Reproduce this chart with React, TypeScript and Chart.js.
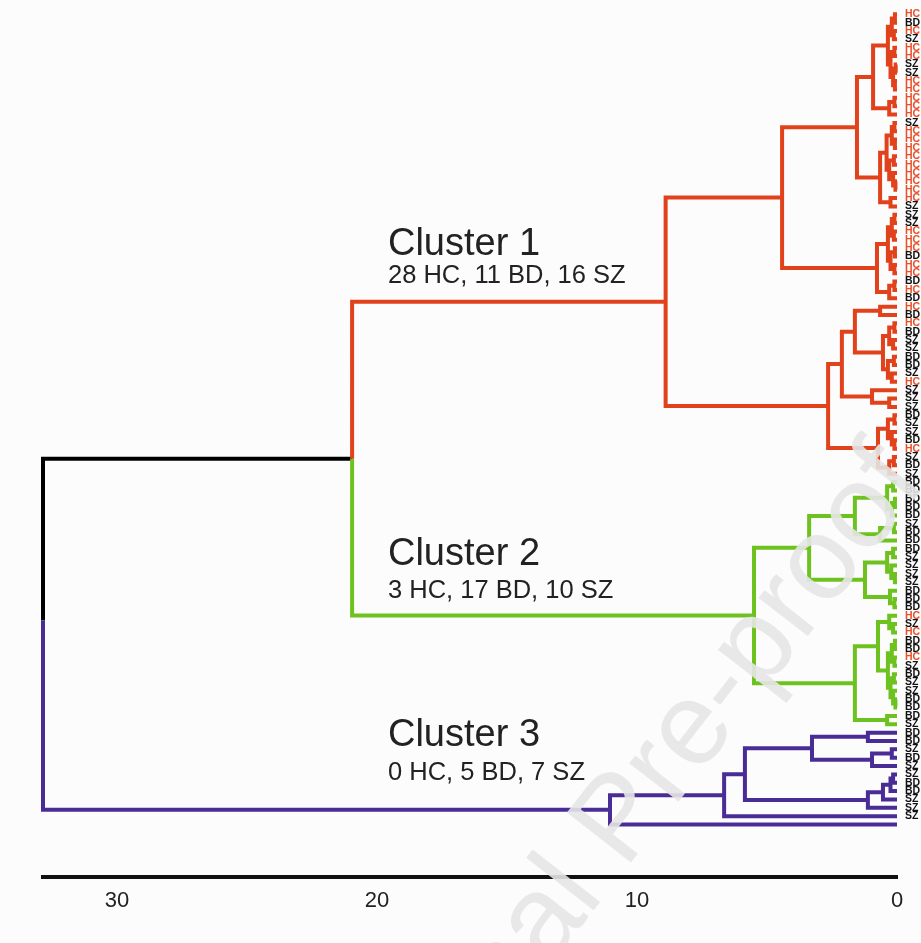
import React, { useEffect, useRef } from "react";
import { Chart, registerables } from "chart.js";

Chart.register(...registerables);

type Tree = number | [number, Tree, Tree];
const L = 0; // a leaf, consumed in label order

// ---------- DATA ----------
const leafLabels: string[] = [
  // cluster 1 (55)
  "HC","BD","HC","SZ","HC","HC","SZ","SZ","HC","HC",
  "HC","HC","HC","SZ","HC","HC","HC","HC","HC","HC",
  "HC","HC","HC","SZ","SZ","SZ","HC","HC","HC","BD",
  "HC","HC","BD","HC","BD","HC","BD","HC","BD","SZ",
  "SZ","BD","BD","SZ","HC","SZ","SZ","SZ","BD","SZ",
  "SZ","BD","HC","SZ","BD",
  // cluster 2 (30)
  "SZ","BD","BD","BD","BD","BD","SZ","BD","BD","BD",
  "SZ","SZ","SZ","SZ","BD","BD","BD","HC","SZ","HC",
  "BD","BD","HC","SZ","BD","SZ","SZ","BD","BD","BD",
  // cluster 3 (12)
  "SZ","BD","BD","SZ","BD","SZ","SZ","BD","BD","SZ","SZ","SZ",
];

// merge trees: [height, left, right]
const cluster1Tree: Tree = [8.9,
  [4.42,
    [1.54,
      [0.92,
        [0.35, [0.2, [0.08, L, L], [0.12, L, L]], [0.25, [0.1, L, L], [0.15, [0.05, L, L], [0.08, L, L]]]],
        [0.3, [0.1, L, L], L]],
      [0.65,
        [0.4, [0.2, [0.1, L, L], [0.08, L, L]], [0.3, [0.12, L, L], [0.15, L, [0.06, L, L]]]],
        [0.25, L, L]]],
    [0.77,
      [0.35, [0.2, [0.1, L, L], [0.12, L, L]], [0.25, [0.08, L, L], [0.1, L, L]]],
      [0.3, [0.1, L, L], L]]],
  [2.65,
    [2.12,
      [1.62,
        [0.65, L, L],
        [0.54, [0.3, [0.1, L, L], [0.15, L, L]], [0.35, [0.12, L, L], [0.2, L, L]]]],
      [0.96, L, [0.3, L, L]]],
    [0.73, [0.35, [0.1, L, L], [0.2, L, [0.1, L, L]]], [0.3, [0.12, L, L], L]]]];

const cluster2Tree: Tree = [5.5,
  [3.38,
    [1.62,
      [0.38, [0.15, L, L], [0.2, [0.08, L, L], L]],
      [0.65, [0.12, L, L], L]],
    [1.23,
      [0.38, [0.15, L, L], [0.22, L, [0.08, L, L]]],
      [0.27, L, [0.1, L, L]]]],
  [1.62,
    [0.73,
      [0.3, L, [0.15, L, L]],
      [0.35, [0.2, [0.08, L, L], [0.1, L, L]], [0.25, [0.12, L, L], [0.15, L, [0.06, L, L]]]]],
    [0.38, L, L]]];

const cluster3Tree: Tree = [11.04,
  [6.65,
    [5.85,
      [3.27, [1.12, L, L], [0.96, [0.2, L, L], L]],
      [1.12, [0.54, [0.25, [0.15, L, L], L], L], L]],
    L],
  L];

const clusters12Height = 20.96;
const rootHeight = 32.85;

const clusterTitles = ["Cluster 1", "Cluster 2", "Cluster 3"];
const clusterCounts = ["28 HC, 11 BD, 16 SZ", "3 HC, 17 BD, 10 SZ", "0 HC, 5 BD, 7 SZ"];
const axisTicks = [0, 10, 20, 30];

// ---------- STYLE ----------
const RED = "#E1411B";
const GREEN = "#6DC21F";
const PURPLE = "#4A2C97";
const BLACK = "#000000";
const HC_LABEL = "#E8502A";
const TEXT = "#222222";
const BG = "#fcfcfc";
const FONT = "'Liberation Sans', Arial, sans-serif";
const TOP_PAD = 12;
const BOTTOM_PAD = 12;
const AREA_BOTTOM = 877;
const LEAF_STEP = 8.375;
const Y_MAX = (AREA_BOTTOM - TOP_PAD) / LEAF_STEP;
const CLUSTER_TEXT_X = 19.58;
const TITLE_OFF = [-47, -51, -64];
const SUB_OFF = [-19, -18, -30];
const ROOT_SPLIT = 0.46;

type Pt = { x: number; y: number | null };

function layout(t: Tree, counter: { i: number }, out: Pt[]): { y: number; h: number } {
  if (!Array.isArray(t)) {
    const y = counter.i++;
    return { y, h: 0 };
  }
  const [h, l, r] = t;
  const a = layout(l, counter, out);
  const b = layout(r, counter, out);
  out.push({ x: a.h, y: a.y }, { x: h, y: a.y }, { x: h, y: b.y }, { x: b.h, y: b.y }, { x: b.h, y: null });
  return { y: (a.y + b.y) / 2, h };
}

function buildSegments() {
  const counter = { i: 0 };
  const red: Pt[] = [];
  const green: Pt[] = [];
  const purple: Pt[] = [];
  const black: Pt[] = [];
  const c1 = layout(cluster1Tree, counter, red);
  const c2 = layout(cluster2Tree, counter, green);
  const c3 = layout(cluster3Tree, counter, purple);
  const y12 = (c1.y + c2.y) / 2;
  red.push({ x: c1.h, y: c1.y }, { x: clusters12Height, y: c1.y }, { x: clusters12Height, y: y12 }, { x: 0, y: null });
  green.push({ x: clusters12Height, y: y12 }, { x: clusters12Height, y: c2.y }, { x: c2.h, y: c2.y }, { x: 0, y: null });
  const split = y12 + ROOT_SPLIT * (c3.y - y12);
  black.push({ x: clusters12Height, y: y12 }, { x: rootHeight, y: y12 }, { x: rootHeight, y: split }, { x: 0, y: null });
  purple.push({ x: rootHeight, y: split }, { x: rootHeight, y: c3.y }, { x: c3.h, y: c3.y }, { x: 0, y: null });
  return { red, green, purple, black, lineYs: [c1.y, c2.y, c3.y] };
}

export default function App() {
  const ref = useRef<HTMLCanvasElement>(null);
  useEffect(() => {
    document.body.style.margin = "0";
    document.body.style.background = BG;
    const canvas = ref.current!;
    const { red, green, purple, black, lineYs } = buildSegments();

    const ds = (data: Pt[], color: string) => ({
      data,
      borderColor: color,
      backgroundColor: color,
      showLine: true,
      spanGaps: false,
      borderWidth: 4,
      pointRadius: 0,
      pointHoverRadius: 0,
      clip: false as any,
    });

    const bgPlugin = {
      id: "bg",
      beforeDraw(chart: any) {
        const c = chart.ctx;
        c.save();
        c.fillStyle = BG;
        c.fillRect(0, 0, chart.width, chart.height);
        c.restore();
      },
    };

    const textPlugin = {
      id: "clusterText",
      afterDatasetsDraw(chart: any) {
        const c = chart.ctx;
        const xs = chart.scales.x;
        const ys = chart.scales.y;
        const px = xs.getPixelForValue(CLUSTER_TEXT_X);
        lineYs.forEach((yv, k) => {
          const py = ys.getPixelForValue(yv);
          c.save();
          c.fillStyle = TEXT;
          c.textAlign = "left";
          c.textBaseline = "alphabetic";
          c.font = `38px ${FONT}`;
          c.fillText(clusterTitles[k], px, py + TITLE_OFF[k]);
          c.font = `25.5px ${FONT}`;
          c.fillText(clusterCounts[k], px, py + SUB_OFF[k]);
          c.restore();
        });
      },
    };

    const watermarkPlugin = {
      id: "watermark",
      afterDraw(chart: any) {
        const c = chart.ctx;
        c.save();
        c.translate(625, 870);
        c.rotate((-52 * Math.PI) / 180);
        c.font = `118px ${FONT}`;
        c.fillStyle = "rgba(230,230,230,0.9)";
        const pre = c.measureText("Journal ").width;
        c.textBaseline = "alphabetic";
        c.fillText("Journal Pre-proof", -pre, 0);
        c.restore();
      },
    };

    const chart = new Chart(canvas, {
      type: "scatter",
      data: {
        datasets: [ds(red, RED), ds(green, GREEN), ds(purple, PURPLE), ds(black, BLACK)] as any,
      },
      options: {
        responsive: false,
        animation: false,
        devicePixelRatio: 1,
        events: [],
        layout: { padding: { left: 43, top: TOP_PAD, right: 0, bottom: BOTTOM_PAD } },
        plugins: { legend: { display: false }, tooltip: { enabled: false } },
        elements: {
          line: { borderJoinStyle: "miter", borderCapStyle: "butt", tension: 0 },
          point: { radius: 0 },
        },
        scales: {
          x: {
            type: "linear",
            reverse: true,
            min: 0,
            max: rootHeight,
            grid: { display: false, drawTicks: false },
            border: { display: true, color: "#111", width: 4 },
            afterBuildTicks: (s: any) => {
              s.ticks = axisTicks.map((v) => ({ value: v }));
            },
            afterFit: (s: any) => {
              s.height = 943 - BOTTOM_PAD - AREA_BOTTOM;
            },
            ticks: {
              autoSkip: false,
              maxRotation: 0,
              padding: 11,
              color: "#222",
              font: { size: 22, family: FONT },
            },
          },
          y: {
            type: "linear",
            position: "right",
            reverse: true,
            min: 0,
            max: Y_MAX,
            grid: { display: false, drawTicks: false },
            border: { display: false },
            afterBuildTicks: (s: any) => {
              s.ticks = leafLabels.map((_, i) => ({ value: i }));
            },
            afterFit: (s: any) => {
              s.width = 24;
            },
            ticks: {
              autoSkip: false,
              padding: 8,
              font: { size: 10.5, weight: "bold", family: FONT },
              color: (c: any) => (leafLabels[c.index] === "HC" ? HC_LABEL : "#111"),
              callback: (v: any) => leafLabels[Math.round(Number(v))] ?? "",
            },
          },
        },
      } as any,
      plugins: [bgPlugin, textPlugin, watermarkPlugin],
    });
    return () => chart.destroy();
  }, []);
  return <canvas ref={ref} width={921} height={943} style={{ display: "block" }} />;
}
